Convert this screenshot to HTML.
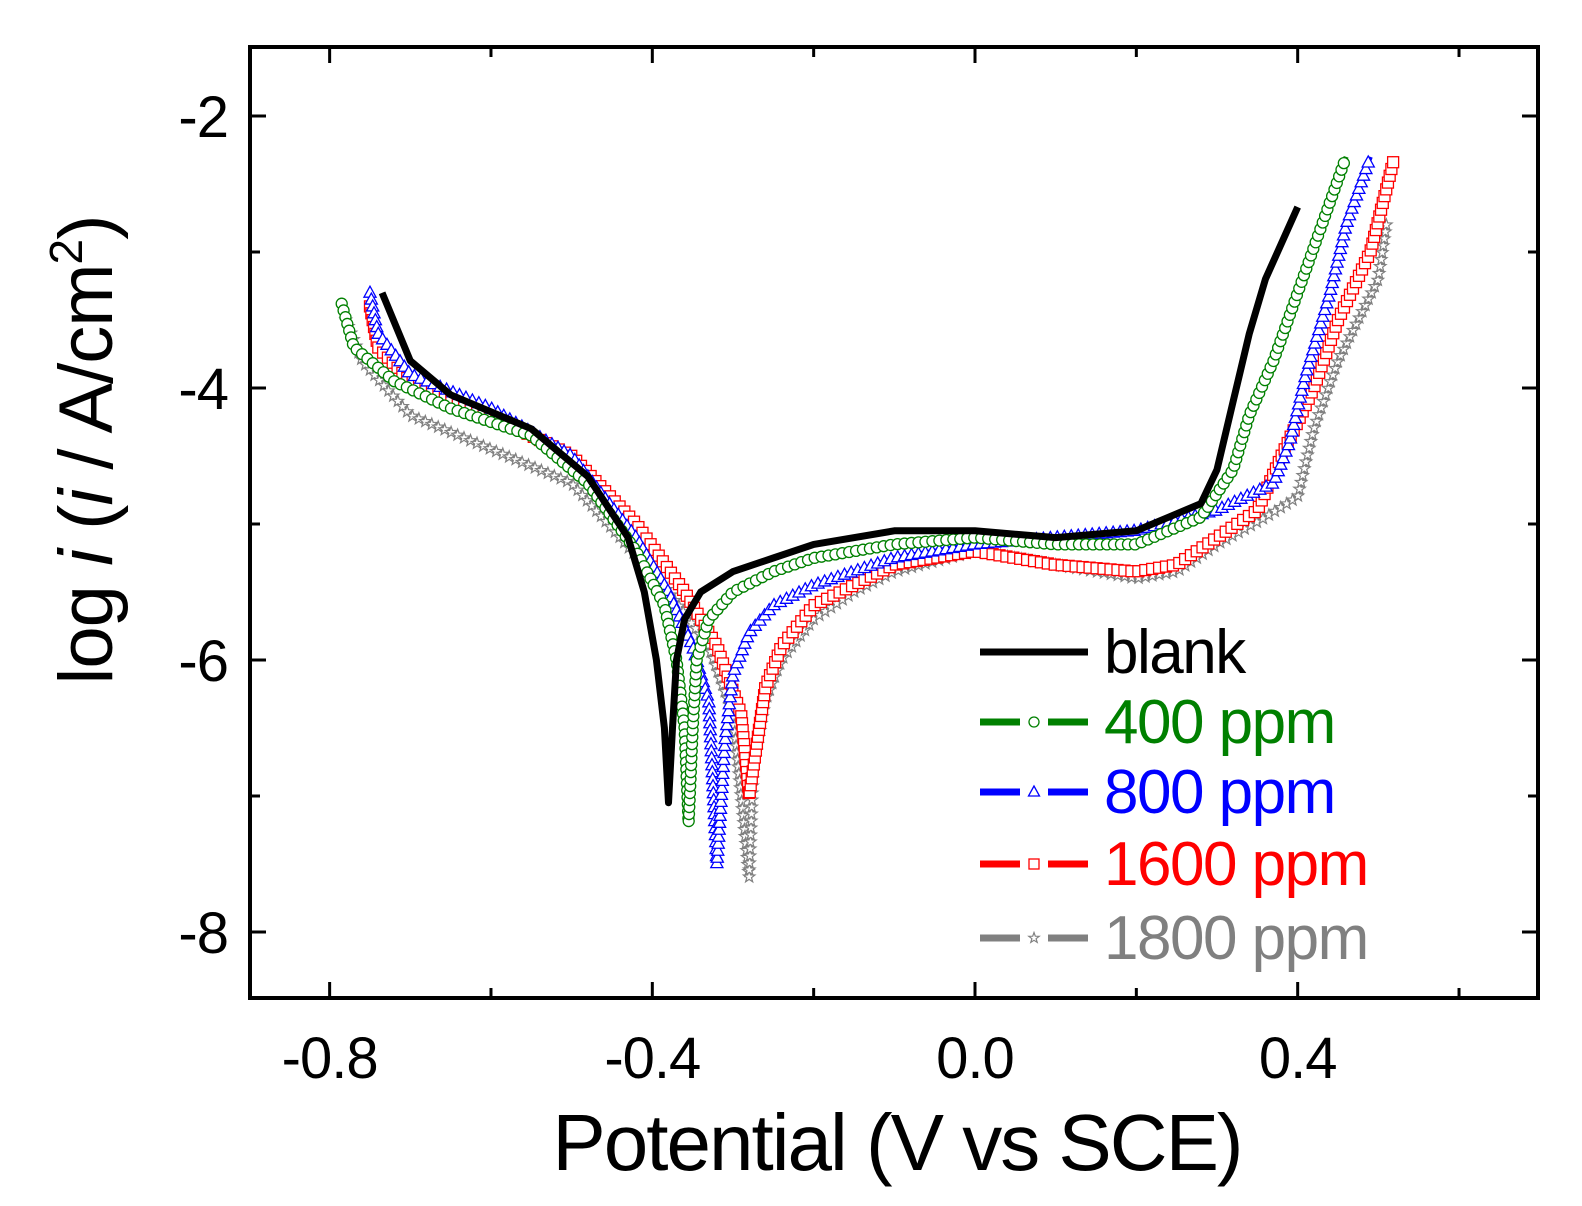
<!DOCTYPE html>
<html><head><meta charset="utf-8"><style>
html,body{margin:0;padding:0;background:#fff;}
svg{display:block;font-family:"Liberation Sans",Arial,sans-serif;}
</style></head><body>
<svg id="chart" width="1582" height="1206" viewBox="0 0 1582 1206">
<rect x="250" y="47" width="1288" height="951" fill="none" stroke="#000" stroke-width="4"/>
<g id="ticks"></g>
<g id="series"></g>
<g id="legend"></g>
<text x="897" y="1170" font-size="80" letter-spacing="-2" text-anchor="middle">Potential (V vs SCE)</text>
<text transform="translate(112,450) rotate(-90)" font-size="76" letter-spacing="-1" text-anchor="middle">log <tspan font-style="italic">i</tspan> (<tspan font-style="italic">i</tspan> / A/cm<tspan font-size="46" dy="-30">2</tspan><tspan dy="30">)</tspan></text>
</svg>
<script>
const xTicks=[-0.8,-0.4,0.0,0.4];
const xTickLabels=["-0.8","-0.4","0.0","0.4"];
const xMinor=[-0.6,-0.2,0.2,0.6];
const yTicks=[-2,-4,-6,-8];
const yTickLabels=["-2","-4","-6","-8"];
const yMinor=[-3,-5,-7];
const seriesNames=["blank","400 ppm","800 ppm","1600 ppm","1800 ppm"];
const seriesColors=["#000000","#008000","#0000ff","#ff0000","#808080"];
const seriesMarkers=["none","circle","triangle","square","star"];
const blankData=[[-0.735,-3.3],[-0.70,-3.8],[-0.65,-4.05],[-0.55,-4.3],[-0.48,-4.65],[-0.43,-5.1],[-0.41,-5.5],[-0.395,-6.0],[-0.385,-6.5],[-0.38,-7.05],[-0.375,-6.5],[-0.37,-6.0],[-0.36,-5.7],[-0.34,-5.5],[-0.3,-5.35],[-0.25,-5.25],[-0.2,-5.15],[-0.1,-5.05],[0.0,-5.05],[0.1,-5.1],[0.2,-5.05],[0.24,-4.95],[0.28,-4.85],[0.3,-4.6],[0.32,-4.1],[0.34,-3.6],[0.36,-3.2],[0.4,-2.67]];
const ppm400Data=[[-0.785,-3.38],[-0.77,-3.7],[-0.72,-3.95],[-0.65,-4.15],[-0.55,-4.35],[-0.48,-4.7],[-0.42,-5.2],[-0.385,-5.6],[-0.37,-6.0],[-0.36,-6.5],[-0.355,-7.2],[-0.35,-6.5],[-0.345,-6.0],[-0.33,-5.7],[-0.3,-5.5],[-0.25,-5.35],[-0.2,-5.25],[-0.1,-5.15],[0.0,-5.1],[0.1,-5.15],[0.2,-5.15],[0.28,-4.95],[0.32,-4.6],[0.34,-4.2],[0.37,-3.8],[0.4,-3.3],[0.43,-2.8],[0.46,-2.3]];
const ppm800Data=[[-0.75,-3.3],[-0.74,-3.6],[-0.7,-3.9],[-0.6,-4.15],[-0.5,-4.5],[-0.42,-5.1],[-0.38,-5.5],[-0.35,-5.9],[-0.33,-6.3],[-0.32,-7.5],[-0.31,-6.6],[-0.3,-6.1],[-0.28,-5.8],[-0.25,-5.6],[-0.2,-5.45],[-0.15,-5.35],[-0.1,-5.25],[0.0,-5.15],[0.1,-5.1],[0.2,-5.05],[0.3,-4.9],[0.37,-4.7],[0.39,-4.4],[0.41,-3.9],[0.44,-3.3],[0.46,-2.8],[0.49,-2.3]];
const ppm1600Data=[[-0.75,-3.4],[-0.74,-3.7],[-0.7,-3.95],[-0.6,-4.2],[-0.5,-4.5],[-0.42,-5.0],[-0.36,-5.5],[-0.32,-5.9],[-0.29,-6.4],[-0.28,-7.0],[-0.27,-6.6],[-0.26,-6.2],[-0.24,-5.9],[-0.2,-5.6],[-0.15,-5.45],[-0.1,-5.3],[0.0,-5.2],[0.1,-5.3],[0.2,-5.35],[0.25,-5.3],[0.3,-5.1],[0.35,-4.9],[0.38,-4.5],[0.42,-4.0],[0.45,-3.5],[0.49,-3.0],[0.52,-2.3]];
const ppm1800Data=[[-0.78,-3.5],[-0.76,-3.8],[-0.7,-4.2],[-0.6,-4.45],[-0.5,-4.7],[-0.44,-5.1],[-0.38,-5.5],[-0.33,-5.9],[-0.3,-6.4],[-0.28,-7.6],[-0.275,-6.8],[-0.26,-6.3],[-0.24,-6.0],[-0.2,-5.7],[-0.15,-5.5],[-0.1,-5.35],[0.0,-5.2],[0.1,-5.3],[0.2,-5.4],[0.25,-5.35],[0.3,-5.15],[0.36,-4.95],[0.4,-4.8],[0.42,-4.3],[0.45,-3.8],[0.5,-3.2],[0.51,-2.8]];
const allData=[blankData,ppm400Data,ppm800Data,ppm1600Data,ppm1800Data];

const NS="http://www.w3.org/2000/svg";
function xs(v){return 975+v*806.7;}
function ys(l){return 116+(-2-l)*136;}
function mk(tag,attrs,parent){const e=document.createElementNS(NS,tag);for(const k in attrs)e.setAttribute(k,attrs[k]);parent.appendChild(e);return e;}
const T=document.getElementById('ticks');
xTicks.forEach((v,i)=>{
  const x=xs(v);
  let t=mk('line',{x1:x,y1:998,x2:x,y2:982,stroke:'#000','stroke-width':3},T);
  
  
  t=mk('line',{x1:x,y1:47,x2:x,y2:63,stroke:'#000','stroke-width':3},T);
  
  
  const lb=mk('text',{x:x,y:1078,'font-size':58,'letter-spacing':-1,'text-anchor':'middle'},T);
  lb.textContent=xTickLabels[i];
  
  
});
xMinor.forEach(v=>{
  const x=xs(v);
  let t=mk('line',{x1:x,y1:998,x2:x,y2:988,stroke:'#000','stroke-width':3},T);
  
  
  t=mk('line',{x1:x,y1:47,x2:x,y2:57,stroke:'#000','stroke-width':3},T);
  
  
});
yTicks.forEach((v,i)=>{
  const y=ys(v);
  let t=mk('line',{x1:250,y1:y,x2:266,y2:y,stroke:'#000','stroke-width':3},T);
  
  
  t=mk('line',{x1:1538,y1:y,x2:1522,y2:y,stroke:'#000','stroke-width':3},T);
  
  
  const lb=mk('text',{x:228,y:y+21,'font-size':58,'letter-spacing':-1,'text-anchor':'end'},T);
  lb.textContent=yTickLabels[i];
  
  
});
yMinor.forEach(v=>{
  const y=ys(v);
  let t=mk('line',{x1:250,y1:y,x2:260,y2:y,stroke:'#000','stroke-width':3},T);
  
  
  t=mk('line',{x1:1538,y1:y,x2:1528,y2:y,stroke:'#000','stroke-width':3},T);
  
  
});
function marker(type,x,y,color,parent,s){
  let e;
  if(type==='circle') e=mk('circle',{cx:x,cy:y,r:s,fill:'#fff',stroke:color,'stroke-width':1.3},parent);
  else if(type==='triangle') e=mk('polygon',{points:`${x},${y-s*1.2} ${x-s*1.1},${y+s*0.8} ${x+s*1.1},${y+s*0.8}`,fill:'#fff',stroke:color,'stroke-width':1.3},parent);
  else if(type==='square') e=mk('rect',{x:x-s,y:y-s,width:2*s,height:2*s,fill:'#fff',stroke:color,'stroke-width':1.3},parent);
  else {let p=[];for(let k=0;k<10;k++){const a=-Math.PI/2+k*Math.PI/5,r=k%2?s*0.45:s*1.1;p.push((x+r*Math.cos(a)).toFixed(1)+','+(y+r*Math.sin(a)).toFixed(1));}
    e=mk('polygon',{points:p.join(' '),fill:'#fff',stroke:color,'stroke-width':1.2},parent);}
  return e;
}
const S=document.getElementById('series');
[4,3,2,1,0].forEach(i=>{
  const g=mk('g',{},S);
  
  
  const d=allData[i].map((p,j)=>(j?'L':'M')+xs(p[0]).toFixed(1)+','+ys(p[1]).toFixed(1)).join(' ');
  const path=mk('path',{d:d,fill:'none',stroke:seriesColors[i],'stroke-width':i===0?7:5,'stroke-linejoin':'round'},g);
  
  
  if(seriesMarkers[i]!=='none'){
    const L=path.getTotalLength();
    for(let l=0;l<=L;l+=7){
      const pt=path.getPointAtLength(l);
      const m=marker(seriesMarkers[i],pt.x,pt.y,seriesColors[i],g,5.5);
      
      
    }
  }
});
const LG=document.getElementById('legend');
seriesNames.forEach((n,i)=>{
  const y=[652,722,792,864,938][i];
  const g=mk('g',{},LG);
  
  
  if(i===0){mk('line',{x1:980,y1:y,x2:1088,y2:y,stroke:seriesColors[i],'stroke-width':7},g);}
  else{
    mk('line',{x1:980,y1:y,x2:1020,y2:y,stroke:seriesColors[i],'stroke-width':7},g);
    mk('line',{x1:1048,y1:y,x2:1088,y2:y,stroke:seriesColors[i],'stroke-width':7},g);
    marker(seriesMarkers[i],1034,y,seriesColors[i],g,5);
  }
  const t=mk('text',{x:1104,y:y+21,'font-size':62,'letter-spacing':-1.5,fill:seriesColors[i]},g);
  t.textContent=n;
  
  
});
</script>
</body></html>
